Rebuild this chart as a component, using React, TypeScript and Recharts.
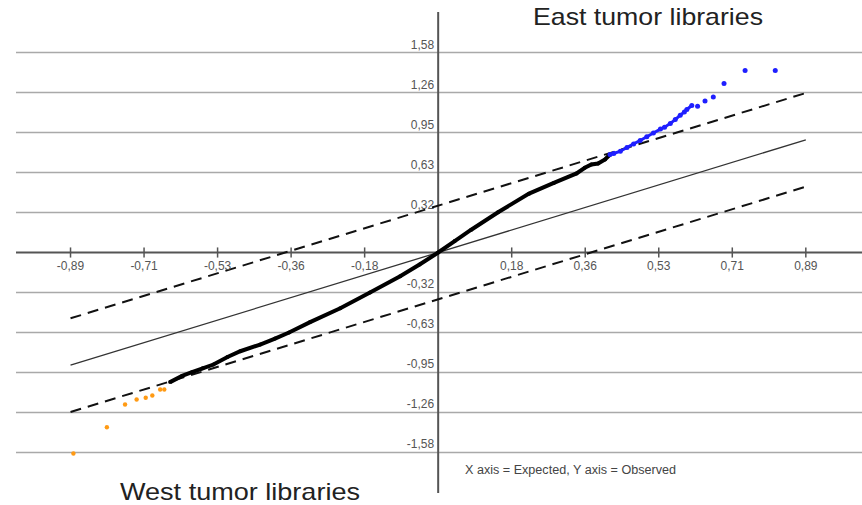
import React from 'react';
import { ComposedChart, XAxis, YAxis, Scatter, ReferenceLine, ReferenceDot } from 'recharts';

// Tick values and labels
const xTickValues = [-0.89, -0.712, -0.534, -0.356, -0.178, 0.178, 0.356, 0.534, 0.712, 0.89];
const xTickLabels = ['-0,89', '-0,71', '-0,53', '-0,36', '-0,18', '0,18', '0,36', '0,53', '0,71', '0,89'];
const yTickValues = [-1.58, -1.264, -0.948, -0.632, -0.316, 0.316, 0.632, 0.948, 1.264, 1.58];
const yTickLabels = ['-1,58', '-1,26', '-0,95', '-0,63', '-0,32', '0,32', '0,63', '0,95', '1,26', '1,58'];

// Expected line (y = x) and confidence band offsets
const expectedExtent = [-0.89, 0.89];
const bandOffset = 0.37;

// Observed quantiles (black, within band)
const observedX = [-0.649, -0.62, -0.596, -0.57, -0.544, -0.51, -0.479, -0.431, -0.395, -0.361, -0.31, -0.237, -0.165, -0.092, -0.045, 0, 0.04, 0.08, 0.145, 0.22, 0.28, 0.335, 0.355, 0.371, 0.387, 0.404, 0.416];
const observedY = [-1.024, -0.975, -0.946, -0.915, -0.885, -0.825, -0.78, -0.727, -0.68, -0.632, -0.55, -0.44, -0.316, -0.187, -0.095, 0, 0.09, 0.18, 0.318, 0.465, 0.55, 0.625, 0.669, 0.695, 0.703, 0.735, 0.774];

// East tumor libraries (blue, above band): dense run and isolated outliers
const eastDenseX = [0.416, 0.425, 0.441, 0.457, 0.473, 0.489, 0.505, 0.521, 0.538, 0.548, 0.562, 0.574, 0.586, 0.596, 0.602, 0.614];
const eastDenseY = [0.774, 0.782, 0.8, 0.83, 0.858, 0.885, 0.915, 0.944, 0.975, 0.99, 1.02, 1.05, 1.085, 1.11, 1.13, 1.161];
const eastSparseX = [0.628, 0.646, 0.666, 0.692, 0.743, 0.816];
const eastSparseY = [1.156, 1.196, 1.229, 1.335, 1.437, 1.437];

// West tumor libraries (orange, below band)
const westX = [-0.883, -0.802, -0.758, -0.73, -0.708, -0.692, -0.673, -0.663];
const westY = [-1.588, -1.38, -1.201, -1.161, -1.148, -1.13, -1.082, -1.082];

const zip = (xs: number[], ys: number[]) => xs.map((x, i) => ({ x, y: ys[i] }));
const observed = zip(observedX, observedY);
const eastDense = zip(eastDenseX, eastDenseY);
const eastSparse = zip(eastSparseX, eastSparseY);
const west = zip(westX, westY);

const FONT = '"Liberation Sans", Arial, sans-serif';
const GRID = '#a9a9a9';
const AXIS = '#555';
const LABEL = '#555';
const BLUE = '#1f1fff';
const ORANGE = '#ff9a14';

export default function App() {
  return (
    <div style={{ position: 'absolute', left: 0, top: 0, width: 862, height: 505, background: '#fff' }}>
      <ComposedChart width={862} height={505} margin={{ top: 12, right: 0, bottom: 12, left: 16 }}>
        <XAxis type="number" dataKey="x" domain={[-1.022, 1.026]} hide allowDataOverflow />
        <YAxis type="number" dataKey="y" domain={[-1.9, 1.9]} hide allowDataOverflow />

        {yTickValues.map((v) => (
          <ReferenceLine key={'g' + v} y={v} stroke={GRID} strokeWidth={1.5} />
        ))}
        <ReferenceLine y={0} stroke={AXIS} strokeWidth={2} />
        <ReferenceLine x={0} stroke={AXIS} strokeWidth={2} />
        {xTickValues.map((v) => (
          <ReferenceLine
            key={'t' + v}
            segment={[{ x: v, y: -0.04 }, { x: v, y: 0.04 }]}
            stroke={AXIS}
            strokeWidth={1.5}
          />
        ))}

        {xTickValues.map((v, i) => (
          <ReferenceDot
            key={'xl' + v}
            x={v}
            y={0}
            r={0}
            shape={(p: any) => (
              <text x={p.cx} y={p.cy + 17} textAnchor="middle" fontSize={12} fill={LABEL} fontFamily={FONT}>
                {xTickLabels[i]}
              </text>
            )}
          />
        ))}
        {yTickValues.map((v, i) => (
          <ReferenceDot
            key={'yl' + v}
            x={0}
            y={v}
            r={0}
            shape={(p: any) => (
              <text x={p.cx - 4} y={p.cy - 4} textAnchor="end" fontSize={12} fill={LABEL} fontFamily={FONT}>
                {yTickLabels[i]}
              </text>
            )}
          />
        ))}

        <ReferenceLine
          segment={[{ x: expectedExtent[0], y: expectedExtent[0] }, { x: expectedExtent[1], y: expectedExtent[1] }]}
          stroke="#333"
          strokeWidth={1.3}
        />
        <ReferenceLine
          segment={[
            { x: expectedExtent[0], y: expectedExtent[0] + bandOffset },
            { x: expectedExtent[1], y: expectedExtent[1] + bandOffset },
          ]}
          stroke="#111"
          strokeWidth={2}
          strokeDasharray="11 7"
        />
        <ReferenceLine
          segment={[
            { x: expectedExtent[0], y: expectedExtent[0] - bandOffset },
            { x: expectedExtent[1], y: expectedExtent[1] - bandOffset },
          ]}
          stroke="#111"
          strokeWidth={2}
          strokeDasharray="11 7"
        />

        <Scatter
          data={observed}
          isAnimationActive={false}
          line={{ stroke: '#000', strokeWidth: 4 }}
          shape={(p: any) => <circle cx={p.cx} cy={p.cy} r={2} fill="#000" />}
        />
        <Scatter
          data={eastDense}
          isAnimationActive={false}
          fill={BLUE}
          line={{ stroke: BLUE, strokeWidth: 3 }}
          shape={(p: any) => <circle cx={p.cx} cy={p.cy} r={2.5} fill={BLUE} />}
        />
        <Scatter
          data={eastSparse}
          isAnimationActive={false}
          fill={BLUE}
          shape={(p: any) => <circle cx={p.cx} cy={p.cy} r={2.5} fill={BLUE} />}
        />
        <Scatter
          data={west}
          isAnimationActive={false}
          fill={ORANGE}
          shape={(p: any) => <circle cx={p.cx} cy={p.cy} r={2.2} fill={ORANGE} />}
        />
      </ComposedChart>
      <svg width={862} height={505} style={{ position: 'absolute', left: 0, top: 0, pointerEvents: 'none' }}>
        <text x={533} y={25} fontSize={24} fill="#222" fontFamily={FONT} textLength={230} lengthAdjust="spacingAndGlyphs">
          East tumor libraries
        </text>
        <text x={120} y={500} fontSize={24} fill="#222" fontFamily={FONT} textLength={240} lengthAdjust="spacingAndGlyphs">
          West tumor libraries
        </text>
        <text x={465} y={474} fontSize={12} fill="#444" fontFamily={FONT} textLength={211} lengthAdjust="spacingAndGlyphs">
          X axis = Expected, Y axis = Observed
        </text>
      </svg>
    </div>
  );
}
